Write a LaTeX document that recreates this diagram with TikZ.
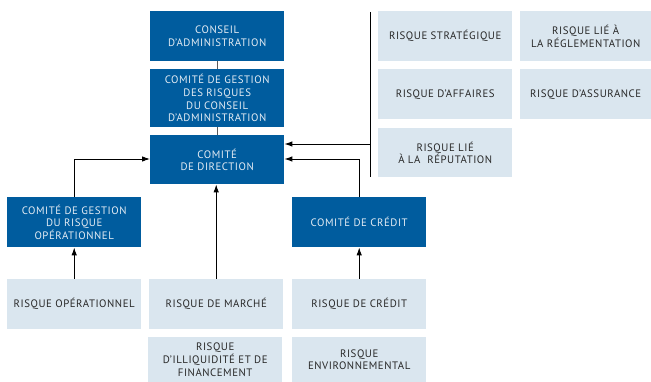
\documentclass[tikz,border=0pt]{standalone}
\usepackage{fontspec}
\setmainfont{PT Sans}[LetterSpace=5]
\usetikzlibrary{arrows.meta}
\definecolor{dkblue}{RGB}{0,92,158}
\definecolor{ltblue}{RGB}{218,230,239}
\definecolor{dtext}{RGB}{228,236,244}
\definecolor{ltext}{RGB}{40,40,40}
\definecolor{gline}{RGB}{90,90,90}
\tikzset{
  base/.style={inner sep=0pt, font=\fontsize{10.8}{12.6}\selectfont, align=center},
  dark/.style={base, fill=dkblue, text=dtext},
  light/.style={base, fill=ltblue, text=ltext},
  arr/.style={-{Latex[length=8pt,width=5.5pt]}, line width=0.9pt, black},
  conn/.style={line width=1.2pt, gline},
}
\begin{document}
\begin{tikzpicture}[x=1pt,y=-1pt]
\useasboundingbox (0,0) rectangle (651,382);
% dark boxes
\node[dark, minimum width=134pt, minimum height=50pt, anchor=north west] (ca) at (150,11) {CONSEIL\\D'ADMINISTRATION};
\node[dark, minimum width=134pt, minimum height=58pt, anchor=north west] (cgr) at (150,69) {COMITÉ DE GESTION\\DES RISQUES\\DU CONSEIL\\D'ADMINISTRATION};
\node[dark, minimum width=134pt, minimum height=49pt, anchor=north west] (cd) at (150,135) {COMITÉ\\DE DIRECTION};
\node[dark, minimum width=134pt, minimum height=50pt, anchor=north west] (cop) at (7,197) {COMITÉ DE GESTION\\DU RISQUE\\OPÉRATIONNEL};
\node[dark, minimum width=134pt, minimum height=50pt, anchor=north west] (ccr) at (292,197) {COMITÉ DE CRÉDIT};
% light boxes bottom
\node[light, minimum width=134pt, minimum height=50pt, anchor=north west] (rop) at (7,279) {RISQUE OPÉRATIONNEL};
\node[light, minimum width=134pt, minimum height=50pt, anchor=north west] (rma) at (149,279) {RISQUE DE MARCHÉ};
\node[light, minimum width=134pt, minimum height=50pt, anchor=north west] (rcr) at (292,279) {RISQUE DE CRÉDIT};
\node[light, minimum width=134pt, minimum height=45pt, anchor=north west] (rli) at (148,337) {RISQUE\\D'ILLIQUIDITÉ ET DE\\FINANCEMENT};
\node[light, minimum width=134pt, minimum height=45pt, anchor=north west] (ren) at (292,337) {RISQUE\\ENVIRONNEMENTAL};
% light boxes right
\node[light, minimum width=134pt, minimum height=50pt, anchor=north west] (rst) at (378,11) {RISQUE STRATÉGIQUE};
\node[light, minimum width=131pt, minimum height=50pt, anchor=north west] (rre) at (520,11) {RISQUE LIÉ À\\LA RÉGLEMENTATION};
\node[light, minimum width=134pt, minimum height=50pt, anchor=north west] (raf) at (378,69) {RISQUE D'AFFAIRES};
\node[light, minimum width=131pt, minimum height=50pt, anchor=north west] (ras) at (520,69) {RISQUE D'ASSURANCE};
\node[light, minimum width=134pt, minimum height=49pt, anchor=north west] (rrp) at (378,128) {RISQUE LIÉ\\À LA~~RÉPUTATION};
% bracket line
\coordinate (bt) at (370,12);
\coordinate (bb) at (370,177);
\draw[line width=1pt, black] (bt) -- (bb);
% connectors
\draw[conn] (ca.south) -- (cgr.north);
\draw[conn] (cgr.south) -- (cd.north);
\draw[arr] (370,144) -- (cd.east |- 0,144);
\draw[arr] (ccr.north) |- (cd.east |- 0,159);
\draw[arr] (cop.north) |- (cd.west |- 0,159);
\draw[arr] (rma.north) -- (rma.north |- cd.south);
\draw[arr] (rop.north) -- (cop.south);
\draw[arr] (rcr.north) -- (ccr.south);
\end{tikzpicture}
\end{document}
